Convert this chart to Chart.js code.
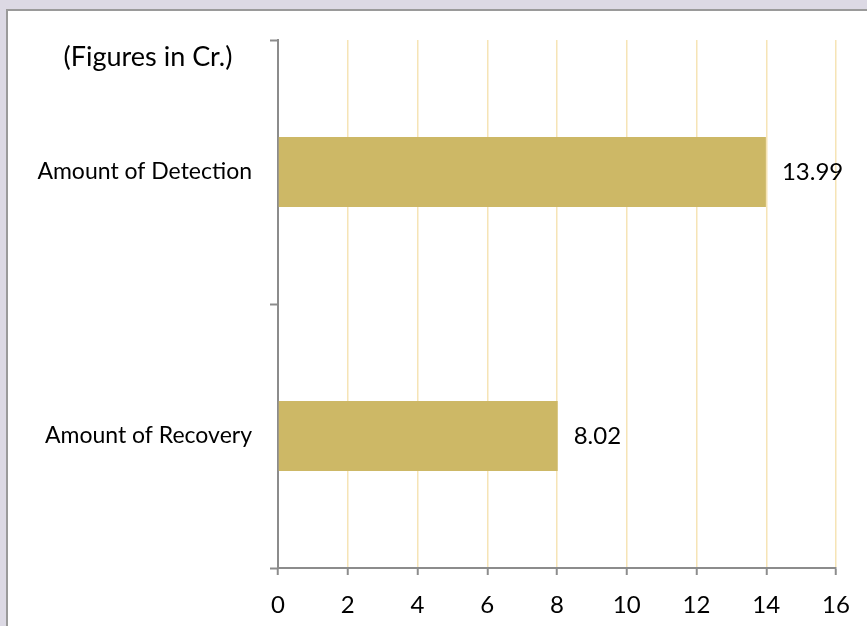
<!DOCTYPE html>
<html>
<head>
<meta charset="utf-8">
<script src="https://cdn.jsdelivr.net/npm/chart.js@4"></script>
<style>
  html, body { margin: 0; padding: 0; }
  body { width: 867px; height: 626px; background: #dcd9e4; position: relative; overflow: hidden; }
  #panel { position: absolute; left: 6px; top: 9px; width: 870px; height: 630px; background: #ffffff; border-left: 2px solid #9a9a9a; border-top: 2px solid #9a9a9a; }
  #wrap { position: absolute; left: 0; top: 0; width: 867px; height: 626px; }
</style>
</head>
<body>
<div id="panel"></div>
<div id="wrap"><canvas id="c" width="867" height="626"></canvas></div>
<script>
const categories = ["Amount of Detection", "Amount of Recovery"];
const values = [13.99, 8.02];
const valueLabels = ["13.99", "8.02"];
const noteText = "(Figures in Cr.)";
const xTicks = [0, 2, 4, 6, 8, 10, 12, 14, 16];

const FONT = "Lato, 'Open Sans', sans-serif";

const labelPlugin = {
  id: 'valueLabels',
  afterDatasetsDraw(chart) {
    const ctx = chart.ctx;
    const meta = chart.getDatasetMeta(0);
    ctx.save();
    ctx.font = "24px " + FONT;
    ctx.fillStyle = "#000";
    ctx.textAlign = "left";
    ctx.textBaseline = "middle";
    meta.data.forEach((bar, i) => {
      ctx.fillText(valueLabels[i], bar.x + 16, bar.y);
    });
    const a = chart.chartArea;
    ctx.textAlign = "center";
    ctx.font = "27px " + FONT;
    ctx.fillText(noteText, a.left - 130, a.top + 17);
    ctx.restore();
  }
};

new Chart(document.getElementById('c'), {
  type: 'bar',
  data: {
    labels: categories,
    datasets: [{
      data: values,
      backgroundColor: '#cdb866',
      borderWidth: 0,
      barPercentage: 0.52,
      categoryPercentage: 0.51
    }]
  },
  options: {
    indexAxis: 'y',
    responsive: false,
    animation: false,
    devicePixelRatio: 1,
    layout: { padding: { left: 0, right: 31, top: 40, bottom: 0 } },
    plugins: { legend: { display: false }, tooltip: { enabled: false }, title: { display: false } },
    scales: {
      x: {
        min: 0, max: 16,
        afterBuildTicks(scale) { scale.ticks = xTicks.map(v => ({ value: v })); },
        afterFit(scale) { scale.height = 58; },
        grid: { color: '#f6e4b6', lineWidth: 1.5, drawTicks: true, tickColor: '#8c8c8c', tickLength: 7, tickWidth: 2 },
        border: { display: true, color: '#8c8c8c', width: 2 },
        ticks: { color: '#000', font: { family: FONT, size: 24 }, padding: 16 }
      },
      y: {
        offset: true,
        afterFit(scale) { scale.width = 278; },
        grid: { offset: true, drawOnChartArea: false, drawTicks: true, tickColor: '#8c8c8c', tickLength: 8, tickWidth: 2 },
        border: { display: true, color: '#8c8c8c', width: 2 },
        ticks: { color: '#000', font: { family: FONT, size: 23 }, padding: 18 }
      }
    }
  },
  plugins: [labelPlugin]
});
</script>
</body>
</html>
